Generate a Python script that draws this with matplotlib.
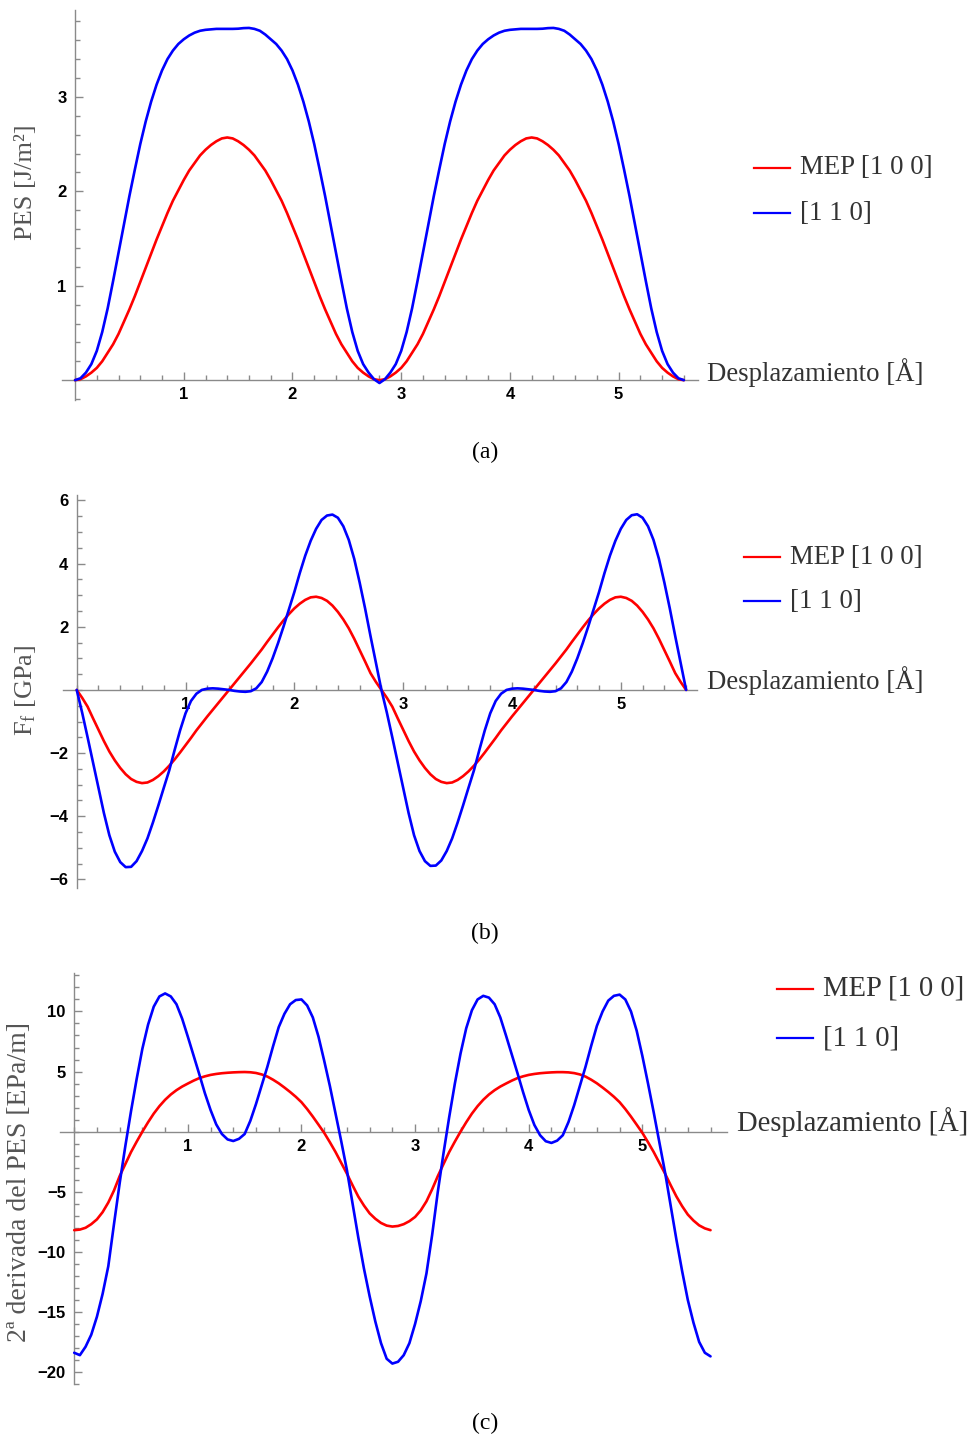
import matplotlib
matplotlib.use("Agg")
import matplotlib.pyplot as plt
from matplotlib.ticker import MultipleLocator, FixedLocator
from matplotlib.lines import Line2D

plt.rcParams['mathtext.fontset'] = 'custom'
plt.rcParams['mathtext.rm'] = 'Liberation Serif'
plt.rcParams['mathtext.it'] = 'Liberation Serif:italic'

# ---------------- data ----------------
displacement = [0.00, 0.05, 0.10, 0.15, 0.20, 0.25, 0.30, 0.35, 0.40, 0.45,
                0.50, 0.55, 0.60, 0.65, 0.70, 0.75, 0.80, 0.85, 0.90, 0.95,
                1.00, 1.05, 1.10, 1.15, 1.20, 1.25, 1.30, 1.35, 1.40, 1.45,
                1.50, 1.55, 1.60, 1.65, 1.70, 1.75, 1.80, 1.85, 1.90, 1.95,
                2.00, 2.05, 2.10, 2.15, 2.20, 2.25, 2.30, 2.35, 2.40, 2.45,
                2.50, 2.55, 2.60, 2.65, 2.70, 2.75, 2.80, 2.85, 2.90, 2.95,
                3.00, 3.05, 3.10, 3.15, 3.20, 3.25, 3.30, 3.35, 3.40, 3.45,
                3.50, 3.55, 3.60, 3.65, 3.70, 3.75, 3.80, 3.85, 3.90, 3.95,
                4.00, 4.05, 4.10, 4.15, 4.20, 4.25, 4.30, 4.35, 4.40, 4.45,
                4.50, 4.55, 4.60, 4.65, 4.70, 4.75, 4.80, 4.85, 4.90, 4.95,
                5.00, 5.05, 5.10, 5.15, 5.20, 5.25, 5.30, 5.35, 5.40, 5.45,
                5.50, 5.55, 5.60]

# (a) PES [J/m^2]  -- first hump (0 .. 2.80) and second hump (2.85 .. 5.60)
pes_mep100_first = [0.00, 0.01, 0.04, 0.08, 0.13, 0.20, 0.29, 0.38, 0.49, 0.62,
                    0.75, 0.89, 1.04, 1.19, 1.34, 1.49, 1.63, 1.77, 1.90, 2.01,
                    2.12, 2.22, 2.30, 2.38, 2.44, 2.49, 2.53, 2.56, 2.57,
                    2.56, 2.53, 2.49, 2.44, 2.38, 2.30, 2.22, 2.12, 2.01, 1.90,
                    1.77, 1.63, 1.49, 1.34, 1.19, 1.04, 0.89, 0.75, 0.62, 0.49,
                    0.38, 0.29, 0.20, 0.13, 0.08, 0.04, 0.01, 0.00]
pes_mep100_second = [0.01, 0.04, 0.08, 0.13, 0.20, 0.29, 0.38, 0.49, 0.62, 0.75,
                     0.89, 1.04, 1.19, 1.34, 1.49, 1.63, 1.77, 1.90, 2.01, 2.12,
                     2.22, 2.30, 2.38, 2.44, 2.49, 2.53, 2.56, 2.57,
                     2.56, 2.53, 2.49, 2.44, 2.38, 2.30, 2.22, 2.12, 2.01, 1.90,
                     1.77, 1.63, 1.49, 1.34, 1.19, 1.04, 0.89, 0.75, 0.62, 0.49,
                     0.38, 0.29, 0.20, 0.13, 0.08, 0.04, 0.01, 0.00]
pes_110_first = [0.00, 0.02, 0.08, 0.17, 0.31, 0.51, 0.76, 1.05, 1.35, 1.65,
                 1.95, 2.23, 2.50, 2.74, 2.95, 3.13, 3.28, 3.40, 3.49, 3.56,
                 3.61, 3.65, 3.68, 3.70, 3.71, 3.715, 3.72, 3.72, 3.72,
                 3.72, 3.722, 3.728, 3.73, 3.72, 3.70, 3.66, 3.61, 3.56, 3.49,
                 3.40, 3.28, 3.13, 2.95, 2.74, 2.50, 2.23, 1.95, 1.65, 1.35,
                 1.05, 0.76, 0.51, 0.31, 0.17, 0.08, 0.01, -0.03]
pes_110_second = [0.01, 0.08, 0.17, 0.31, 0.51, 0.76, 1.05, 1.35, 1.65, 1.95,
                  2.23, 2.50, 2.74, 2.95, 3.13, 3.28, 3.40, 3.49, 3.56, 3.61,
                  3.65, 3.68, 3.70, 3.71, 3.715, 3.72, 3.72, 3.72,
                  3.72, 3.722, 3.728, 3.73, 3.72, 3.70, 3.66, 3.61, 3.56, 3.49,
                  3.40, 3.28, 3.13, 2.95, 2.74, 2.50, 2.23, 1.95, 1.65, 1.35,
                  1.05, 0.76, 0.51, 0.31, 0.17, 0.08, 0.02, 0.00]

# (b) F_f [GPa]
force_mep100_first = [0.00, -0.25, -0.53, -0.90, -1.26, -1.62, -1.95, -2.23, -2.47, -2.67,
                      -2.82, -2.91, -2.95, -2.93, -2.85, -2.73, -2.58, -2.40, -2.20, -1.98,
                      -1.75, -1.52, -1.28, -1.06, -0.84, -0.63, -0.42, -0.21, 0.00,
                      0.21, 0.42, 0.63, 0.84, 1.06, 1.28, 1.52, 1.75, 1.98, 2.20,
                      2.40, 2.58, 2.73, 2.85, 2.93, 2.95, 2.91, 2.82, 2.67, 2.47,
                      2.23, 1.95, 1.62, 1.26, 0.90, 0.53, 0.25, 0.00]
force_mep100_second = [-0.25, -0.53, -0.90, -1.26, -1.62, -1.95, -2.23, -2.47, -2.67, -2.82,
                       -2.91, -2.95, -2.93, -2.85, -2.73, -2.58, -2.40, -2.20, -1.98, -1.75,
                       -1.52, -1.28, -1.06, -0.84, -0.63, -0.42, -0.21, 0.00,
                       0.21, 0.42, 0.63, 0.84, 1.06, 1.28, 1.52, 1.75, 1.98, 2.20,
                       2.40, 2.58, 2.73, 2.85, 2.93, 2.95, 2.91, 2.82, 2.67, 2.47,
                       2.23, 1.95, 1.62, 1.26, 0.90, 0.53, 0.25, 0.00]
force_110_first = [0.00, -0.72, -1.50, -2.30, -3.10, -3.90, -4.60, -5.12, -5.45, -5.61,
                   -5.60, -5.42, -5.10, -4.70, -4.20, -3.66, -3.10, -2.55, -1.90, -1.28,
                   -0.74, -0.35, -0.12, 0.00, 0.04, 0.05, 0.04, 0.02, 0.00,
                   -0.03, -0.05, -0.06, -0.04, 0.05, 0.25, 0.58, 1.00, 1.48, 2.00,
                   2.55, 3.10, 3.70, 4.25, 4.72, 5.10, 5.38, 5.52, 5.55, 5.45,
                   5.18, 4.75, 4.15, 3.40, 2.58, 1.70, 0.85, 0.00]
force_110_second = [-0.72, -1.50, -2.30, -3.10, -3.90, -4.60, -5.10, -5.42, -5.57, -5.56,
                    -5.40, -5.10, -4.70, -4.20, -3.66, -3.10, -2.55, -1.90, -1.28, -0.74,
                    -0.35, -0.12, 0.00, 0.04, 0.05, 0.04, 0.02, 0.00,
                    -0.03, -0.05, -0.06, -0.04, 0.05, 0.25, 0.58, 1.00, 1.48, 2.00,
                    2.55, 3.10, 3.70, 4.25, 4.72, 5.10, 5.38, 5.53, 5.56, 5.45,
                    5.18, 4.75, 4.15, 3.40, 2.58, 1.70, 0.85, 0.00]

# (c) 2a derivada del PES [EPa/m]
d2_mep100_first = [-8.20, -8.15, -8.00, -7.70, -7.30, -6.70, -5.90, -4.90, -3.70, -2.70,
                   -1.70, -0.83, 0.00, 0.78, 1.50, 2.12, 2.65, 3.09, 3.45, 3.75,
                   4.00, 4.24, 4.45, 4.60, 4.72, 4.80, 4.86, 4.90, 4.93,
                   4.95, 4.96, 4.94, 4.88, 4.76, 4.58, 4.32, 4.02, 3.67, 3.30,
                   2.90, 2.45, 1.88, 1.25, 0.58, -0.10, -0.88, -1.70, -2.60, -3.50,
                   -4.47, -5.40, -6.15, -6.80, -7.25, -7.60, -7.82, -7.90]
d2_mep100_second = [-7.85, -7.70, -7.45, -7.10, -6.55, -5.80, -4.80, -3.70, -2.70, -1.70,
                    -0.83, 0.00, 0.78, 1.50, 2.12, 2.65, 3.09, 3.45, 3.75, 4.00,
                    4.24, 4.45, 4.60, 4.72, 4.80, 4.86, 4.90, 4.93,
                    4.95, 4.95, 4.93, 4.87, 4.76, 4.58, 4.32, 4.02, 3.67, 3.30,
                    2.90, 2.45, 1.88, 1.25, 0.58, -0.10, -0.88, -1.70, -2.60, -3.50,
                    -4.47, -5.40, -6.20, -6.90, -7.40, -7.80, -8.05, -8.20]
d2_110_first = [-18.4, -18.6, -17.9, -16.9, -15.4, -13.5, -11.2, -7.7, -4.3, -1.2,
                1.7, 4.4, 6.9, 8.9, 10.4, 11.25, 11.5, 11.25, 10.6, 9.4,
                7.9, 6.35, 4.8, 3.2, 1.8, 0.6, -0.2, -0.65, -0.78,
                -0.6, -0.2, 0.9, 2.3, 3.85, 5.4, 7.1, 8.7, 9.8, 10.6,
                10.95, 11.0, 10.5, 9.5, 7.9, 5.9, 3.8, 1.5, -0.8, -3.2,
                -6.0, -8.8, -11.4, -13.7, -15.8, -17.6, -18.9, -19.3]
d2_110_second = [-19.15, -18.6, -17.6, -16.0, -14.1, -11.8, -8.6, -5.0, -1.8, 1.2,
                 4.0, 6.5, 8.6, 10.1, 11.0, 11.3, 11.15, 10.6, 9.5, 8.0,
                 6.45, 4.9, 3.3, 1.8, 0.55, -0.3, -0.8, -0.94,
                 -0.75, -0.3, 0.8, 2.2, 3.8, 5.4, 7.15, 8.8, 10.0, 10.9,
                 11.3, 11.4, 11.0, 10.0, 8.4, 6.3, 4.0, 1.6, -0.9, -3.4,
                 -6.2, -9.0, -11.6, -14.0, -15.9, -17.5, -18.4, -18.7]

pes_mep100 = pes_mep100_first + pes_mep100_second
pes_110 = pes_110_first + pes_110_second
force_mep100 = force_mep100_first + force_mep100_second
force_110 = force_110_first + force_110_second
d2_mep100 = d2_mep100_first + d2_mep100_second
d2_110 = d2_110_first + d2_110_second

series_labels = ["MEP [1 0 0]", "[1 1 0]"]
series_colors = ["#ff0000", "#0000ff"]
x_label = "Desplazamiento [Å]"
y_labels = ["PES [J/m²]", r"F$_\mathrm{f}$ [GPa]", "2ª derivada del PES [EPa/m]"]
captions = ["(a)", "(b)", "(c)"]
x_ticks = [1, 2, 3, 4, 5]
y_ticks_a = [1, 2, 3]
y_ticks_b = [-6, -4, -2, 2, 4, 6]
y_ticks_c = [-20, -15, -10, -5, 5, 10]

# ---------------- layout ----------------
W, H = 972, 1439
fig = plt.figure(figsize=(W / 100, H / 100), dpi=100)
fig.patch.set_facecolor("white")

AX_GRAY = "#8a8a8a"
TXT = "#333333"
YL = "#555555"
SERIF = ["Liberation Serif", "DejaVu Serif"]
SANS = ["Liberation Sans", "DejaVu Sans"]


def fx(x):
    return x / W


def fy(y):
    return 1 - y / H


def make_panel(idx, box, xlim, ylim, yticks, yminor, series, ylab_xy, ylab_size,
               xlab_xy, legend_xy, legend_dy, text_size, caption_y):
    l, t, r, b = box
    ax = fig.add_axes([fx(l), fy(b), (r - l) / W, (b - t) / H])
    ax.set_xlim(*xlim)
    ax.set_ylim(*ylim)
    ax.patch.set_alpha(0)
    for s in ("top", "right"):
        ax.spines[s].set_visible(False)
    for s in ("left", "bottom"):
        ax.spines[s].set_position(("data", 0))
        ax.spines[s].set_color(AX_GRAY)
        ax.spines[s].set_linewidth(1.0)
    ax.xaxis.set_major_locator(FixedLocator(x_ticks))
    ax.xaxis.set_minor_locator(MultipleLocator(0.2))
    ax.yaxis.set_major_locator(FixedLocator(yticks))
    ax.yaxis.set_minor_locator(MultipleLocator(yminor))
    ax.tick_params(which="both", direction="in", color=AX_GRAY, width=1.0)
    ax.tick_params(which="major", length=6)
    ax.tick_params(which="minor", length=3.5)
    ax.tick_params(axis="x", which="major", pad=5)
    ax.tick_params(axis="y", which="major", pad=6)
    for lab in ax.get_xticklabels() + ax.get_yticklabels():
        lab.set_fontfamily(SANS)
        lab.set_fontweight("bold")
        lab.set_fontsize(12)
        lab.set_color("black")
    for ys, c in zip(series, series_colors):
        ax.plot(displacement, ys, color=c, lw=1.9, zorder=3, clip_on=False,
                solid_joinstyle="round", solid_capstyle="round")
    # y label
    fig.text(fx(ylab_xy[0]), fy(ylab_xy[1]), y_labels[idx], rotation=90, ha="center",
             va="center", fontsize=ylab_size, color=YL, family=SERIF)
    # x label at the end of the axis
    fig.text(fx(xlab_xy[0]), fy(xlab_xy[1]), x_label, ha="left", va="center",
             fontsize=text_size, color=TXT, family=SERIF)
    # legend
    lx, ly = legend_xy
    for i, (lab, c) in enumerate(zip(series_labels, series_colors)):
        yy = ly + i * legend_dy
        fig.add_artist(Line2D([fx(lx), fx(lx + 36)], [fy(yy), fy(yy)], color=c,
                              lw=1.6, transform=fig.transFigure))
        fig.text(fx(lx + 46), fy(yy), lab, ha="left", va="center",
                 fontsize=text_size, color=TXT, family=SERIF)
    fig.text(fx(485), fy(caption_y), captions[idx], ha="center",
             va="center", fontsize=17, color="black", family=SERIF)
    return ax


make_panel(0, (62, 10, 698, 400), (-0.12, 5.73), (-0.21, 3.92), y_ticks_a, 0.2,
           [pes_mep100, pes_110], (26, 182), 19,
           (707, 373), (754, 168), 45, 19.4, 452)
make_panel(1, (63, 495, 697, 888), (-0.126, 5.7), (-6.27, 6.17), y_ticks_b, 0.5,
           [force_mep100, force_110], (26, 690), 19,
           (707, 681), (744, 557), 44, 19.4, 933)
make_panel(2, (60, 973, 727, 1384), (-0.125, 5.745), (-21.0, 13.2), y_ticks_c, 1.0,
           [d2_mep100, d2_110], (20, 1182), 20,
           (737, 1122), (777, 989), 49, 20.6, 1423)

fig.savefig("out.png", dpi=100, facecolor="white")
